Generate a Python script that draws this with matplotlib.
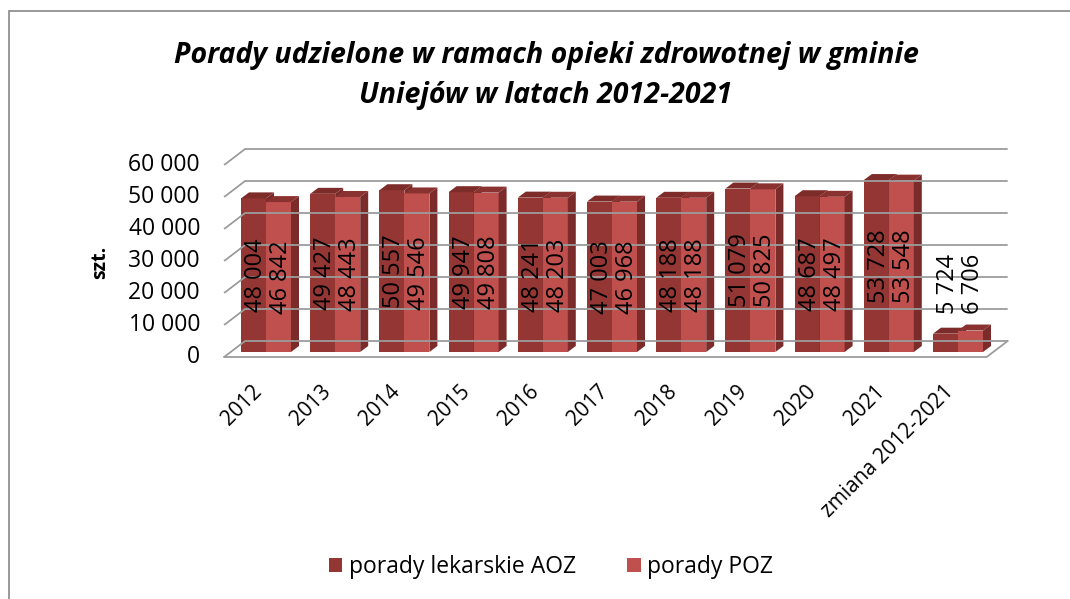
import numpy as np
import matplotlib
matplotlib.use("Agg")
import matplotlib.pyplot as plt
from matplotlib.patches import Polygon, Rectangle

plt.rcParams['font.family'] = ['Open Sans', 'DejaVu Sans']

# dane
kategorie = ["2012", "2013", "2014", "2015", "2016", "2017", "2018", "2019", "2020", "2021",
             "zmiana 2012-2021"]
porady_aoz = [48004, 49427, 50557, 49947, 48241, 47003, 48188, 51079, 48687, 53728, 5724]
porady_poz = [46842, 48443, 49546, 49808, 48203, 46968, 48188, 50825, 48497, 53548, 6706]
etykiety_y = ["0", "10 000", "20 000", "30 000", "40 000", "50 000", "60 000"]
wartosci_y = [0, 10000, 20000, 30000, 40000, 50000, 60000]

# wyglad "3D"
px_x = 69.2            # px na kategorie
px_y = 60000 / 192     # wartosc na px
wall_dx, wall_dy = 21 / px_x, 16 * px_y
bar_ox, bar_oy = 6.6 / px_x, 5 * px_y
bar_dx, bar_dy = 8 / px_x, 6 * px_y
szer = 25 / px_x
floor_l, floor_r = -0.51, 10.51

kol_ciemny = "#943634"
kol_jasny = "#C0504D"
kol_gora = ["#7E2C2A", "#8A3230"]
kol_bok = "#7B2C2A"
kol_siatka = "#9C9C9C"

W, H = 1070, 599
fig = plt.figure(figsize=(W / 100, H / 100), dpi=100)
box_l, box_r, box_t, box_b = 215, 1015, 140, 365
ax = fig.add_axes([box_l / W, (H - box_b) / H, (box_r - box_l) / W, (box_b - box_t) / H])
ax.set_xlim((box_l - 259.4) / px_x, (box_r - 259.4) / px_x)
ax.set_ylim((357 - box_b) * px_y, (357 - box_t) * px_y)
ax.axis("off")

# ramka wykresu
fig.patches.append(Rectangle((9 / W, -0.1), 1.2, 1 - 11 / H + 0.1, transform=fig.transFigure,
                             fill=False, edgecolor="#888888", lw=1.2))

# siatka na tylnej scianie
for v, lab in zip(wartosci_y, etykiety_y):
    ax.plot([floor_l, floor_l + wall_dx, floor_r + wall_dx], [v, v + wall_dy, v + wall_dy],
            color=kol_siatka, lw=1.3, solid_capstyle="butt")
    ax.text(floor_l - 24 / px_x, v, lab, ha="right", va="center", fontsize=16.5)
# podloga
ax.plot([floor_l, floor_r, floor_r + wall_dx], [0, 0, wall_dy], color=kol_siatka, lw=1.3)

x = np.arange(len(kategorie))


def slupek(xl, v, kolor, gora):
    x0, y0 = xl + bar_ox, bar_oy
    r = ax.bar(x0, v, width=szer, bottom=y0, align="edge", color=kolor, lw=0)
    ax.add_patch(Polygon([(x0, y0 + v), (x0 + szer, y0 + v), (x0 + szer + bar_dx, y0 + v + bar_dy),
                          (x0 + bar_dx, y0 + v + bar_dy)], closed=True, color=gora, lw=0))
    ax.add_patch(Polygon([(x0 + szer, y0), (x0 + szer + bar_dx, y0 + bar_dy),
                          (x0 + szer + bar_dx, y0 + v + bar_dy), (x0 + szer, y0 + v)],
                         closed=True, color=kol_bok, lw=0))
    return r


for i in range(len(kategorie)):
    b1 = slupek(x[i] - szer, porady_aoz[i], kol_ciemny, kol_gora[0])
    b2 = slupek(x[i], porady_poz[i], kol_jasny, kol_gora[1])
    for xs, v in [(x[i] - szer / 2, porady_aoz[i]), (x[i] + szer / 2, porady_poz[i])]:
        txt = f"{v:,}".replace(",", " ")
        xt = xs + bar_ox + 2.5 / px_x
        if v > 20000:
            ax.text(xt, bar_oy + v / 2, txt, rotation=90, ha="center", va="center",
                    fontsize=17)
        else:
            ax.text(xt, bar_oy + max(porady_aoz[i], porady_poz[i]) + 5300, txt,
                    rotation=90, ha="center", va="bottom", fontsize=17)
    ax.text(x[i] + 0.1, -7400, kategorie[i], rotation=45, ha="right", va="top", fontsize=15,
            clip_on=False)

fig.text(546 / W, 1 - 75 / H, "Porady udzielone w ramach opieki zdrowotnej w gminie\nUniejów w latach 2012-2021",
         ha="center", va="center", fontsize=20.5, fontweight="bold", fontstyle="italic",
         linespacing=1.5)
fig.text(100 / W, 1 - 262 / H, "szt.", rotation=90, ha="center", va="center", fontsize=14,
         fontweight="bold")

fig.legend([b1, b2], ["porady lekarskie AOZ", "porady POZ"], loc="center",
           bbox_to_anchor=(551 / W, 1 - 567 / H), ncol=2, frameon=False, fontsize=16.5,
           handlelength=0.6, handleheight=0.6, handletextpad=0.3, columnspacing=2.2)

fig.savefig("out.png", dpi=100)
